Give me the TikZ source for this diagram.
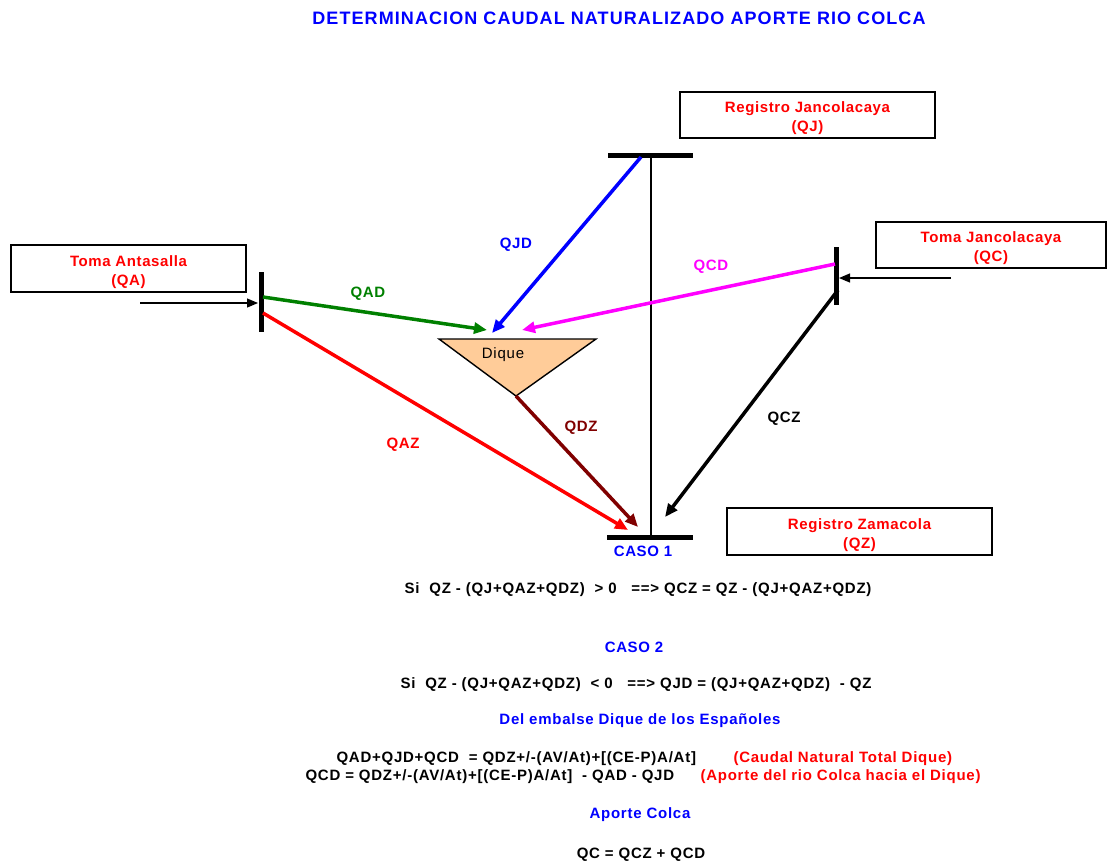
\documentclass[tikz,border=0pt]{standalone}
\usepackage{fontspec}
\setmainfont{Liberation Sans}
\newfontfamily\fuenteRot[LetterSpace=4]{Liberation Sans}
\newfontfamily\fuenteFor[LetterSpace=5]{Liberation Sans}
\newfontfamily\fuenteTit[LetterSpace=6]{Liberation Sans}
\usetikzlibrary{arrows.meta,positioning}

\definecolor{diquefill}{RGB}{255,204,153}
\definecolor{verdeq}{RGB}{0,128,0}
\definecolor{granate}{RGB}{128,0,0}
\definecolor{fucsia}{RGB}{255,0,255}

\tikzset{
  rotulo/.style={font=\fuenteRot\bfseries\fontsize{15}{19}\selectfont, yshift=-2pt},
  caja/.style={draw, line width=1.4pt, inner sep=0pt},
  cajatxt/.style={rotulo, text=red, align=center, yshift=-1.5pt},
  barra/.style={line width=5pt},
  flujo/.style={line width=3.5pt, -{Triangle[length=13pt,width=11pt]}},
  entrada/.style={line width=1.2pt, -{Triangle[length=11pt,width=9pt]}},
  formula/.style={font=\fuenteFor\bfseries\fontsize{15}{18}\selectfont, yshift=-2pt}
}

\begin{document}
\begin{tikzpicture}[x=1pt, y=-1pt]
  \useasboundingbox (0,0) rectangle (1108,863);

  \node[text=blue, font=\fuenteTit\bfseries\fontsize{18}{21}\selectfont] (titulo) at (619,18)
    {DETERMINACION CAUDAL NATURALIZADO APORTE RIO COLCA};

  % cajas de estaciones
  \node[caja, minimum width=255pt, minimum height=46pt] (cajaQJ) at (807.5,115) {};
  \node[caja, minimum width=265pt, minimum height=47pt] (cajaQZ) at (859.5,531.5) {};
  \node[caja, minimum width=235pt, minimum height=47pt] (cajaQA) at (128.5,268.5) {};
  \node[caja, minimum width=230pt, minimum height=46pt] (cajaQC) at (991,245) {};
  \node[cajatxt] (txtQJ) at (cajaQJ.center) {Registro Jancolacaya\\(QJ)};
  \node[cajatxt] (txtQZ) at (cajaQZ.center) {Registro Zamacola\\(QZ)};
  \node[cajatxt] (txtQA) at (cajaQA.center) {Toma Antasalla\\(QA)};
  \node[cajatxt] (txtQC) at (cajaQC.center) {Toma Jancolacaya\\(QC)};

  % barras
  \coordinate (qjL) at (608,155);
  \coordinate (qjR) at (693,155);
  \coordinate (qzL) at (607,537);
  \coordinate (qzR) at (693,537);
  \coordinate (qaT) at (261,272);
  \coordinate (qaB) at (261,332);
  \coordinate (qcT) at (836,247);
  \coordinate (qcB) at (836,305);
  \draw[barra] (qjL) -- (qjR);
  \draw[barra] (qzL) -- (qzR);
  \draw[barra] (qaT) -- (qaB);
  \draw[barra] (qcT) -- (qcB);

  \coordinate (rioJ) at (651,155);
  \coordinate (rioZ) at (651,537);
  \draw[line width=1.2pt] (rioJ) -- (rioZ);

  % dique
  \coordinate (dqL) at (439,339);
  \coordinate (dqR) at (596,339);
  \coordinate (dqV) at (516,396);
  \draw[fill=diquefill, line width=1.4pt, line join=miter] (dqL) -- (dqR) -- (dqV) -- cycle;
  \node[font=\fuenteFor\fontsize{15}{17}\selectfont, yshift=-2pt] (dique) at (503,353) {Dique};

  % entradas
  \coordinate (inQA) at (140,303);
  \coordinate (aQA) at (258,303);
  \coordinate (inQC) at (951,278);
  \coordinate (aQC) at (839,278);
  \draw[entrada] (inQA) -- (aQA);
  \draw[entrada] (inQC) -- (aQC);

  % flujos
  \coordinate (sQAD) at (263,297);
  \coordinate (eQAD) at (487,330);
  \coordinate (sQAZ) at (263,313);
  \coordinate (eQAZ) at (628,530);
  \coordinate (sQJD) at (641,157);
  \coordinate (eQJD) at (492,333);
  \coordinate (sQCD) at (835,264);
  \coordinate (eQCD) at (522,330);
  \coordinate (sQCZ) at (838,290);
  \coordinate (eQCZ) at (665,517);
  \coordinate (eQDZ) at (638,527);
  \draw[flujo, verdeq] (sQAD) -- (eQAD);
  \draw[flujo, red] (sQAZ) -- (eQAZ);
  \draw[flujo, blue] (sQJD) -- (eQJD);
  \draw[flujo, fucsia] (sQCD) -- (eQCD);
  \draw[flujo, black] (sQCZ) -- (eQCZ);
  \draw[flujo, granate] (dqV) -- (eQDZ);

  \node[rotulo, text=verdeq] (lQAD) at (368,292) {QAD};
  \node[rotulo, text=red] (lQAZ) at (403,443) {QAZ};
  \node[rotulo, text=blue] (lQJD) at (516,243) {QJD};
  \node[rotulo, text=fucsia] (lQCD) at (711,265) {QCD};
  \node[rotulo] (lQCZ) at (784,417) {QCZ};
  \node[rotulo, text=granate] (lQDZ) at (581,426) {QDZ};

  % casos
  \node[rotulo, text=blue] (caso1) at (643,549) {CASO 1};
  \node[formula] (si1) at (638,588) {Si\ \ QZ - (QJ+QAZ+QDZ)\ \ > 0\ \ \ ==> QCZ = QZ - (QJ+QAZ+QDZ)};
  \node[rotulo, text=blue] (caso2) at (634,645) {CASO 2};
  \node[formula] (si2) at (636,683) {Si\ \ QZ - (QJ+QAZ+QDZ)\ \ < 0\ \ \ ==> QJD = (QJ+QAZ+QDZ)\ \ - QZ};
  \node[formula, text=blue] (embalse) at (640,719) {Del embalse Dique de los Españoles};
  \node[formula, anchor=west] (ec1) at (333,757) {QAD+QJD+QCD\ \ = QDZ+/-(AV/At)+[(CE-P)A/At]};
  \node[formula, anchor=west, text=red] (ec1n) at (730,757) {(Caudal Natural Total Dique)};
  \node[formula, anchor=west] (ec2) at (302,775) {QCD = QDZ+/-(AV/At)+[(CE-P)A/At]\ \ - QAD - QJD};
  \node[formula, anchor=west, text=red] (ec2n) at (697,775) {(Aporte del rio Colca hacia el Dique)};
  \node[formula, text=blue] (aporte) at (640,813) {Aporte Colca};
  \node[formula] (qc) at (641,853) {QC = QCZ + QCD};
\end{tikzpicture}
\end{document}
